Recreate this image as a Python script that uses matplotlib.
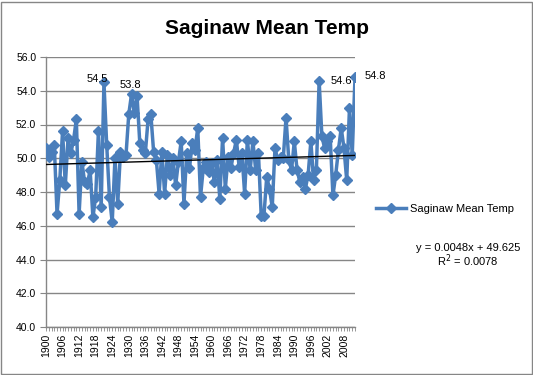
import numpy as np
import matplotlib
matplotlib.use('Agg')
import matplotlib.pyplot as plt
from matplotlib.patches import Rectangle

# Saginaw yearly mean temperature
years = list(range(1900, 2013))
temps = [
    50.6, 50.1, 50.4, 50.8, 46.7, 48.7, 51.6, 48.4, 51.2, 50.3,   # 1900s
    51.1, 52.3, 46.7, 49.8, 48.6, 48.5, 49.3, 46.5, 47.7, 51.6,   # 1910s
    47.1, 54.5, 50.8, 47.7, 46.2, 50.0, 47.3, 50.4, 50.1, 50.2,   # 1920s
    52.6, 53.8, 52.7, 53.7, 50.9, 50.5, 50.3, 52.3, 52.6, 50.4,   # 1930s
    49.9, 47.9, 50.4, 47.9, 50.2, 49.0, 50.0, 48.4, 49.8, 51.0,   # 1940s
    47.3, 50.3, 49.4, 50.9, 50.5, 51.8, 47.7, 49.4, 49.8, 49.2,   # 1950s
    49.7, 48.6, 49.9, 47.6, 51.2, 48.2, 50.1, 49.4, 50.3, 51.1,   # 1960s
    49.5, 50.3, 47.9, 51.1, 49.3, 51.0, 49.3, 50.3, 46.6, 46.6,   # 1970s
    48.9, 48.2, 47.1, 50.6, 49.9, 50.1, 50.0, 52.4, 49.9, 49.3,   # 1980s
    51.0, 49.3, 48.6, 48.9, 48.2, 49.0, 51.0, 48.7, 49.3, 54.6,   # 1990s
    51.3, 50.6, 51.0, 51.3, 47.8, 49.0, 50.5, 51.8, 50.6, 48.7,   # 2000s
    53.0, 50.2, 54.8,
]

# linear trend as printed on the chart (x = 1, 2, 3, ...)
slope = 0.0048
intercept = 49.625

# years that carry a data label, with offsets in pixels (dx, dy, ha)
label_years = [1921, 1931, 1999, 2012]
label_offsets = [(-7, 3, 'center'), (-1, 9, 'center'), (11, 0, 'left'), (10, 1, 'left')]

blue = '#4A7EBB'
grey = '#868686'

fig = plt.figure(figsize=(5.33, 3.75), dpi=100)
ax = fig.add_axes([46 / 533, 1 - 327 / 375, 309 / 533, 270 / 375])

ax.plot(years, temps, color=blue, lw=2.5, marker='D', markersize=5,
        markerfacecolor=blue, markeredgecolor=blue, label='Saginaw Mean Temp', zorder=3)

idx = np.arange(1, len(years) + 1)
ax.plot(years, slope * idx + intercept, color='black', lw=1, zorder=4)

for yr, (dx, dy, ha) in zip(label_years, label_offsets):
    v = temps[years.index(yr)]
    ax.annotate(f'{v:.1f}', (yr, v), xytext=(dx * 0.72, dy * 0.72), textcoords='offset points',
                ha=ha, va='center', fontsize=8, family='Liberation Sans')

ax.set_xlim(1900, 2012)
ax.set_ylim(40, 56)
ax.set_yticks(np.arange(40, 56.1, 2))
ax.set_yticklabels([f'{v:.1f}' for v in np.arange(40, 56.1, 2)], fontsize=7.5, family='Liberation Sans')
ax.set_xticks(years)
ax.set_xticklabels([str(y) if (y - 1900) % 6 == 0 else '' for y in years],
                   rotation=90, fontsize=7.5, family='Liberation Sans')
ax.tick_params(axis='x', length=3, width=0.6, color=grey, pad=2)
ax.tick_params(axis='y', length=4, width=0.8, color=grey, pad=3)

ax.grid(axis='y', color=grey, lw=1)
ax.set_axisbelow(True)
for side in ['top', 'right']:
    ax.spines[side].set_visible(False)
for side in ['left', 'bottom']:
    ax.spines[side].set_color(grey)
    ax.spines[side].set_linewidth(1)

fig.text(267 / 533, 1 - 28 / 375, 'Saginaw Mean Temp', ha='center', va='center',
         fontsize=15, fontweight='bold', family='Liberation Sans')

fig.legend(loc='center left', bbox_to_anchor=(372 / 533, 1 - 209 / 375), frameon=False,
           prop={'family': 'Liberation Sans', 'size': 8}, handlelength=2.7, borderaxespad=0,
           handletextpad=0.3)

fig.text(468 / 533, 1 - 248 / 375, 'y = 0.0048x + 49.625', ha='center', va='center',
         fontsize=8, family='Liberation Sans')
fig.text(468 / 533, 1 - 261 / 375, 'R$^2$ = 0.0078', ha='center', va='center',
         fontsize=8, family='Liberation Sans')

fig.patches.append(Rectangle((1 / 533, 1 / 375), 531 / 533, 372 / 375, transform=fig.transFigure,
                             fill=False, edgecolor=grey, lw=1))

fig.savefig('out.png', dpi=100)
